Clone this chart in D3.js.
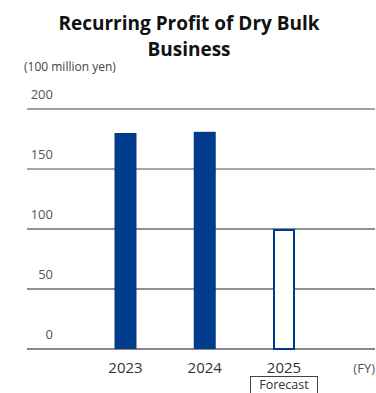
<!DOCTYPE html>
<html>
<head>
<meta charset="utf-8">
<script src="https://cdn.jsdelivr.net/npm/d3@7"></script>
<style>
  body { margin: 0; background: #fff; }
  svg text { font-family: "Open Sans", "Noto Sans", sans-serif; }
</style>
</head>
<body>
<div id="chart"></div>
<script>
// Data
const years    = ["2023", "2024", "2025"];
const profits  = [180, 181, 100];
const forecast = [false, false, true];
const yTicks   = [0, 50, 100, 150, 200];
const titleLines = ["Recurring Profit of Dry Bulk", "Business"];

// Layout
const width  = 376;
const height = 393;
const plot   = { left: 27, right: 375, top: 109, bottom: 349 };
const barColor = "#003b8e";

const svg = d3.select("#chart").append("svg")
  .attr("width", width)
  .attr("height", height);

// Title, one text per line
svg.append("g")
  .selectAll("text")
  .data(titleLines)
  .enter()
  .append("text")
  .attr("x", 189)
  .attr("y", (d, i) => 30 + i * 26)
  .attr("text-anchor", "middle")
  .attr("font-weight", "bold")
  .style("font-size", "19px")
  .attr("fill", "#111")
  .text(d => d);

svg.append("text")
  .attr("x", 24).attr("y", 71)
  .style("font-size", "12px")
  .attr("fill", "#444")
  .text("(100 million yen)");

// Scales
const x = d3.scalePoint()
  .domain(years)
  .range([125.5, 284])
  .padding(0);

const y = d3.scaleLinear()
  .domain([0, 200])
  .range([plot.bottom, plot.top]);

const barWidth = 22;

// Gridlines
const gridStyle = { 0: ["#888", 2], 50: ["#222", 1], 100: ["#222", 1], 150: ["#888", 1.5], 200: ["#444", 1] };
svg.append("g")
  .selectAll("line")
  .data(yTicks)
  .enter()
  .append("line")
  .attr("x1", plot.left)
  .attr("x2", plot.right)
  .attr("y1", d => y(d))
  .attr("y2", d => y(d))
  .attr("stroke", d => gridStyle[d][0])
  .attr("stroke-width", d => gridStyle[d][1]);

// Tick labels (above the lines)
svg.append("g")
  .selectAll("text")
  .data(yTicks)
  .enter()
  .append("text")
  .attr("x", 53)
  .attr("y", d => y(d) - 10)
  .attr("text-anchor", "end")
  .style("font-size", "13px")
  .attr("fill", "#555")
  .text(d => d);

// Bars
const bars = years.map((yr, i) => ({ year: yr, value: profits[i], forecast: forecast[i] }));
svg.append("g")
  .selectAll("rect")
  .data(bars)
  .enter()
  .append("rect")
  .attr("x", d => x(d.year) - barWidth / 2 + (d.forecast ? 1 : 0))
  .attr("y", d => y(d.value) + (d.forecast ? 1 : 0))
  .attr("width", d => barWidth - (d.forecast ? 2 : 0))
  .attr("height", d => y(0) - y(d.value) - (d.forecast ? 1 : 0))
  .attr("fill", d => d.forecast ? "#fff" : barColor)
  .attr("stroke", d => d.forecast ? barColor : "none")
  .attr("stroke-width", 2);

// Category labels
svg.append("g")
  .selectAll("text")
  .data(years)
  .enter()
  .append("text")
  .attr("x", d => x(d))
  .attr("y", 373)
  .attr("text-anchor", "middle")
  .style("font-size", "15px")
  .attr("fill", "#333")
  .text(d => d);

svg.append("text")
  .attr("x", 375).attr("y", 373)
  .attr("text-anchor", "end")
  .style("font-size", "13px")
  .attr("fill", "#555")
  .text("(FY)");

// Forecast tag
svg.append("rect")
  .attr("x", 250.5).attr("y", 376.5)
  .attr("width", 67).attr("height", 20)
  .attr("fill", "#fff")
  .attr("stroke", "#444")
  .attr("stroke-width", 1);

svg.append("text")
  .attr("x", x("2025")).attr("y", 389)
  .attr("text-anchor", "middle")
  .style("font-size", "12.5px")
  .attr("fill", "#333")
  .text("Forecast");
</script>
</body>
</html>
